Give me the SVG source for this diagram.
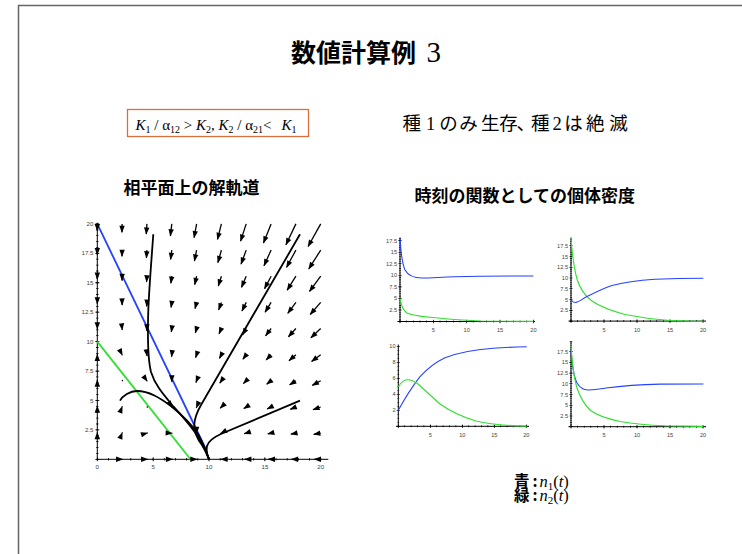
<svg xmlns="http://www.w3.org/2000/svg" width="742" height="554" viewBox="0 0 742 554">
<style>
.cjk{font-family:"Noto Sans CJK JP","Noto Sans CJK SC",sans-serif}
.ser{font-family:"Liberation Serif",serif}
.b{font-weight:bold}
.tk{font-family:"Liberation Sans",sans-serif;font-size:6.2px;fill:#444}
.tk2{font-family:"Liberation Sans",sans-serif;font-size:5.6px;fill:#444}
.vf path{fill:none;stroke:#000;stroke-width:1.3;marker-end:url(#ah)}
.traj{fill:none;stroke:#000;stroke-width:1.8}
.ax{stroke:#000;stroke-width:1;fill:none}
.tick{stroke:#000;fill:none}
.cb{fill:none;stroke:#2442ff;stroke-width:1.1}
.cg{fill:none;stroke:#2fe02f;stroke-width:1.1}
</style>
<defs>
<marker id="ah" markerUnits="userSpaceOnUse" markerWidth="8" markerHeight="6" refX="0" refY="0" orient="auto" style="overflow:visible"><path d="M0.7,0 L-6.6,-2.7 L-6.6,2.7 Z" fill="#000"/></marker>
</defs>
<rect width="742" height="554" fill="#fff"/>
<g id="frame" fill="none" stroke="#666" stroke-width="1.5"><path d="M18.5,554 V5.5 H742"/></g>
<g id="title">
<text x="291" y="61.5" class="cjk b" font-size="25">数値計算例</text>
<text x="426.5" y="61.5" class="ser" font-size="29">3</text>
</g>
<g id="formula">
<rect x="127.5" y="109.5" width="181" height="27" fill="none" stroke="#d8703c" stroke-width="1.3"/>
<text x="135.5" y="129.5" class="ser" font-size="15"><tspan font-style="italic">K</tspan><tspan font-size="10" dy="3">1</tspan><tspan dy="-3"> / α</tspan><tspan font-size="10" dy="3">12</tspan><tspan dy="-3"> &gt; </tspan><tspan font-style="italic">K</tspan><tspan font-size="10" dy="3">2</tspan><tspan dy="-3">, </tspan><tspan font-style="italic">K</tspan><tspan font-size="10" dy="3">2</tspan><tspan dy="-3"> / α</tspan><tspan font-size="10" dy="3">21</tspan><tspan dy="-3">&lt;</tspan><tspan x="281.5" font-style="italic">K</tspan><tspan font-size="10" dy="3">1</tspan></text>
</g>
<g id="result">
<text y="130" class="cjk" font-size="18.5"><tspan x="402.6">種</tspan><tspan x="426" class="ser">1</tspan><tspan x="439.3 459.3 481 499.3 516.5">のみ生存、</tspan><tspan x="531">種</tspan><tspan x="552.5" class="ser">2</tspan><tspan x="564.3 586 609.3">は絶滅</tspan></text>
</g>
<g id="headers">
<text x="123.5" y="193.5" class="cjk b" font-size="17">相平面上の解軌道</text>
<text x="414.5" y="201.5" class="cjk b" font-size="17">時刻の関数としての個体密度</text>
</g>
<g id="phase-plane">
<g id="pp-axes">
<path class="ax" d="M97.3,459.3 H328.3 M97.3,459.3 V222.7"/>
<line class="tick" x1="96.9" y1="459.3" x2="328" y2="459.3" stroke-width="2.4" stroke-dasharray="0.8 10.37"/>
<line class="tick" x1="96.9" y1="459.3" x2="328" y2="459.3" stroke-width="4" stroke-dasharray="0.8 55.05"/>
<line class="tick" x1="97.3" y1="459.7" x2="97.3" y2="222.5" stroke-width="2.4" stroke-dasharray="0.8 5.085"/>
<line class="tick" x1="97.3" y1="459.7" x2="97.3" y2="222.5" stroke-width="4" stroke-dasharray="0.8 28.625"/>
<g class="tk" text-anchor="middle">
<text x="97.3" y="469">0</text><text x="153.2" y="469">5</text><text x="209" y="469">10</text><text x="264.9" y="469">15</text><text x="320.7" y="469">20</text>
</g>
<g class="tk" text-anchor="end">
<text x="93.5" y="431.9">2.5</text><text x="93.5" y="402.5">5</text><text x="93.5" y="373">7.5</text><text x="93.5" y="343.6">10</text><text x="93.5" y="314.2">12.5</text><text x="93.5" y="284.8">15</text><text x="93.5" y="255.3">17.5</text><text x="93.5" y="225.9">20</text>
</g>
</g>
<g id="nullclines" stroke-width="1.8" fill="none">
<line x1="97.3" y1="223.9" x2="205.8" y2="449" stroke="#2442ff"/>
<line x1="97.3" y1="341.6" x2="190.5" y2="459.3" stroke="#2fe02f"/>
</g>
<g id="vector-field" class="vf">
<path d="M97.3 433.1l0 -.57"/><path d="M97.3 407l0 -.82"/><path d="M97.3 380.8l0 -.74"/><path d="M97.3 354.7l0 -.33"/><path d="M97.3 328.5l0 .41"/><path d="M97.3 302.4l0 1.47"/><path d="M97.3 276.2l0 2.87"/><path d="M97.3 250.1l0 4.59"/><path d="M97.3 223.9l0 6.63"/>
<path d="M122.1 459.3l.54 0"/><path d="M122.1 433.1l.2 -.5"/><path d="M122.1 407l.2 -.5"/><path d="M122.1 354.7l.23 .46"/><path d="M122.1 328.5l.16 1.39"/><path d="M122.1 302.4l.08 2.65"/><path d="M122.1 276.2l0 4.24"/><path d="M122.1 250.1l-.08 6.16"/><path d="M122.1 223.9l-.16 8.4"/>
<path d="M146.9 459.3l.78 0"/><path d="M146.9 433.1l.62 -.18"/><path d="M146.9 380.8l.31 .44"/><path d="M146.9 354.7l.16 1.24"/><path d="M146.9 328.5l0 2.38"/><path d="M146.9 302.4l-.16 3.83"/><path d="M146.9 276.2l-.31 5.62"/><path d="M146.9 250.1l-.47 7.73"/><path d="M146.9 223.9l-.62 10.17"/>
<path d="M171.8 459.3l.7 0"/><path d="M171.8 433.1l.47 .02"/><path d="M171.8 407l.23 .36"/><path d="M171.8 380.8l0 1.03"/><path d="M171.8 354.7l-.23 2.03"/><path d="M171.8 328.5l-.47 3.36"/><path d="M171.8 302.4l-.7 5.01"/><path d="M171.8 276.2l-.93 6.99"/><path d="M171.8 250.1l-1.17 9.3"/><path d="M171.8 223.9l-1.4 11.94"/>
<path d="M196.6 459.3l.31 0"/><path d="M196.6 433.1l0 .21"/><path d="M196.6 407l-.31 .75"/><path d="M196.6 380.8l-.62 1.62"/><path d="M196.6 354.7l-.93 2.82"/><path d="M196.6 328.5l-1.24 4.34"/><path d="M196.6 302.4l-1.55 6.19"/><path d="M196.6 276.2l-1.86 8.37"/><path d="M196.6 250.1l-2.18 10.88"/><path d="M196.6 223.9l-2.49 13.71"/>
<path d="M221.4 459.3l-.39 0"/><path d="M221.4 433.1l-.78 .41"/><path d="M221.4 407l-1.17 1.15"/><path d="M221.4 380.8l-1.55 2.21"/><path d="M221.4 354.7l-1.94 3.6"/><path d="M221.4 328.5l-2.33 5.32"/><path d="M221.4 302.4l-2.72 7.37"/><path d="M221.4 276.2l-3.11 9.75"/><path d="M221.4 250.1l-3.5 12.45"/><path d="M221.4 223.9l-3.89 15.48"/>
<path d="M246.2 459.3l-1.4 0"/><path d="M246.2 433.1l-1.86 .61"/><path d="M246.2 407l-2.33 1.54"/><path d="M246.2 380.8l-2.8 2.8"/><path d="M246.2 354.7l-3.26 4.39"/><path d="M246.2 328.5l-3.73 6.31"/><path d="M246.2 302.4l-4.2 8.55"/><path d="M246.2 276.2l-4.66 11.12"/><path d="M246.2 250.1l-5.13 14.02"/><path d="M246.2 223.9l-5.59 17.25"/>
<path d="M271.1 459.3l-2.72 0"/><path d="M271.1 433.1l-3.26 .8"/><path d="M271.1 407l-3.81 1.93"/><path d="M271.1 380.8l-4.35 3.39"/><path d="M271.1 354.7l-4.9 5.18"/><path d="M271.1 328.5l-5.44 7.29"/><path d="M271.1 302.4l-5.98 9.73"/><path d="M271.1 276.2l-6.53 12.5"/><path d="M271.1 250.1l-7.07 15.59"/><path d="M271.1 223.9l-7.61 19.02"/>
<path d="M295.9 459.3l-4.35 0"/><path d="M295.9 433.1l-4.97 1"/><path d="M295.9 407l-5.59 2.33"/><path d="M295.9 380.8l-6.22 3.98"/><path d="M295.9 354.7l-6.84 5.96"/><path d="M295.9 328.5l-7.46 8.27"/><path d="M295.9 302.4l-8.08 10.91"/><path d="M295.9 276.2l-8.7 13.87"/><path d="M295.9 250.1l-9.32 17.17"/><path d="M295.9 223.9l-9.95 20.79"/>
<path d="M320.7 459.3l-6.29 0"/><path d="M320.7 433.1l-6.99 1.2"/><path d="M320.7 407l-7.69 2.72"/><path d="M320.7 380.8l-8.39 4.57"/><path d="M320.7 354.7l-9.09 6.75"/><path d="M320.7 328.5l-9.79 9.25"/><path d="M320.7 302.4l-10.49 12.09"/><path d="M320.7 276.2l-11.19 15.25"/><path d="M320.7 250.1l-11.89 18.74"/><path d="M320.7 223.9l-12.59 22.56"/>
</g>
<g id="vf-dots" fill="#000"><circle cx="122.4" cy="380.6" r="0.8"/><circle cx="147.3" cy="407" r="0.8"/></g>
<g id="trajectories" class="traj">
<path d="M153.3,234.3 C151.8,256 149.3,285 148.3,310 C147.5,335 147.5,358 151,372 C155,385 163,394 173,406 C182,416 192,427 198,437 C203,446 206.5,453 209,459.3"/>
<path d="M120,400.7 C122.5,396 130,391 137,391 C149,391 160,398 171,406 C182,415 192,425 198,434 C203,443 206.5,452 209,459.3"/>
<path d="M300,400.7 L222,433.5 C214,437 208.5,441 207,446 C206,451 207.5,456 209,459.3"/>
<path d="M300,234.3 L201,405 C197,412 194.5,418 194.3,425 C194.2,433 198,440 202,445 C205,449 207.5,454 209,459.3"/>
</g>
</g>
<g id="time-series">
<g id="ts-top-left">
<path class="ax" d="M397.5,321.5 H535 M400,321.5 V237.5"/>
<line class="tick" x1="399.65" y1="321.5" x2="535" y2="321.5" stroke-width="2" stroke-dasharray="0.7 5.97"/>
<line class="tick" x1="399.65" y1="321.5" x2="535" y2="321.5" stroke-width="3.6" stroke-dasharray="0.7 32.65"/>
<line class="tick" x1="400" y1="321.8" x2="400" y2="237.5" stroke-width="1.8" stroke-dasharray="0.6 1.71"/>
<line class="tick" x1="400" y1="321.8" x2="400" y2="237.5" stroke-width="3.4" stroke-dasharray="0.6 10.95"/>
<g class="tk2" text-anchor="end"><text x="397" y="312">2.5</text><text x="397" y="300.4">5</text><text x="397" y="288.9">7.5</text><text x="397" y="277.3">10</text><text x="397" y="265.8">12.5</text><text x="397" y="254.2">15</text><text x="397" y="242.7">17.5</text></g>
<g class="tk2" text-anchor="middle"><text x="433.4" y="331.5">5</text><text x="466.7" y="331.5">10</text><text x="500" y="331.5">15</text><text x="533.4" y="331.5">20</text></g>
<path class="cb" d="M400,238.3 C400.8,252 402,263 405,270 C408,275.5 414,278 422,278 C432,278 440,277.2 455,276.8 C475,276.3 500,276 533.4,276"/>
<path class="cg" d="M400,298.4 C401,305 403,310.5 407,313 C412,315.5 420,316.3 430,317.3 C445,319 460,320.3 480,321 L533.4,321.4"/>
</g>
<g id="ts-top-right">
<path class="ax" d="M568.5,321.1 H706 M571,321.1 V237.5"/>
<line class="tick" x1="570.65" y1="321.1" x2="706" y2="321.1" stroke-width="2" stroke-dasharray="0.7 5.9"/>
<line class="tick" x1="570.65" y1="321.1" x2="706" y2="321.1" stroke-width="3.6" stroke-dasharray="0.7 32.3"/>
<line class="tick" x1="571" y1="321.4" x2="571" y2="237.5" stroke-width="1.8" stroke-dasharray="0.6 1.555"/>
<line class="tick" x1="571" y1="321.4" x2="571" y2="237.5" stroke-width="3.4" stroke-dasharray="0.6 10.175"/>
<g class="tk2" text-anchor="end"><text x="568" y="312.3">2.5</text><text x="568" y="301.6">5</text><text x="568" y="290.8">7.5</text><text x="568" y="280">10</text><text x="568" y="269.2">12.5</text><text x="568" y="258.5">15</text><text x="568" y="247.7">17.5</text></g>
<g class="tk2" text-anchor="middle"><text x="604" y="331.5">5</text><text x="637" y="331.5">10</text><text x="670" y="331.5">15</text><text x="703" y="331.5">20</text></g>
<path class="cg" d="M571,238.3 C572,252 574,268 577,279 C580,289 585,296 592,301 C600,306.5 612,311 625,314.5 C640,317.5 655,319.5 670,320.5 C685,321 695,321.2 703.4,321.3"/>
<path class="cb" d="M571,300 C572.5,302 574,302.6 576,302.4 C579,302 582,299 587,296.5 C595,292.5 603,288.5 612,285.5 C625,282 640,280.3 655,279.3 C675,278.6 690,278.4 703.4,278.3"/>
</g>
<g id="ts-bottom-left">
<path class="ax" d="M396,426.3 H529 M398.3,426.3 V344.5"/>
<line class="tick" x1="397.95" y1="426.3" x2="529" y2="426.3" stroke-width="2" stroke-dasharray="0.7 5.7"/>
<line class="tick" x1="397.95" y1="426.3" x2="529" y2="426.3" stroke-width="3.6" stroke-dasharray="0.7 31.3"/>
<line class="tick" x1="398.3" y1="426.6" x2="398.3" y2="344.5" stroke-width="1.8" stroke-dasharray="0.6 3.4"/>
<line class="tick" x1="398.3" y1="426.6" x2="398.3" y2="344.5" stroke-width="3.4" stroke-dasharray="0.6 15.4"/>
<g class="tk2" text-anchor="end"><text x="395.5" y="412.3">2</text><text x="395.5" y="396.3">4</text><text x="395.5" y="380.3">6</text><text x="395.5" y="364.3">8</text><text x="395.5" y="348.3">10</text></g>
<g class="tk2" text-anchor="middle"><text x="430.3" y="437">5</text><text x="462.3" y="437">10</text><text x="494.3" y="437">15</text><text x="526.3" y="437">20</text></g>
<path class="cb" d="M398.3,410.3 C404,400 412,387 420,376.7 C428,368 436,362 445,357.8 C458,352.5 475,349.5 493,348.2 C505,347.4 515,347 526.7,346.7"/>
<path class="cg" d="M398.3,386.7 C401,382.5 404,380 407,379.8 C411,379.6 414,381 418,384 C425,390 432,397 440,404 C450,411 462,417 476,421 C490,424.5 505,425.8 526.7,426.1"/>
</g>
<g id="ts-bottom-right">
<path class="ax" d="M568.5,426.7 H706 M571,426.7 V341"/>
<line class="tick" x1="570.65" y1="426.7" x2="706" y2="426.7" stroke-width="2" stroke-dasharray="0.7 5.9"/>
<line class="tick" x1="570.65" y1="426.7" x2="706" y2="426.7" stroke-width="3.6" stroke-dasharray="0.7 32.3"/>
<line class="tick" x1="571" y1="427" x2="571" y2="341" stroke-width="1.8" stroke-dasharray="0.6 1.545"/>
<line class="tick" x1="571" y1="427" x2="571" y2="341" stroke-width="3.4" stroke-dasharray="0.6 10.125"/>
<g class="tk2" text-anchor="end"><text x="568" y="418">2.5</text><text x="568" y="407.3">5</text><text x="568" y="396.5">7.5</text><text x="568" y="385.8">10</text><text x="568" y="375.1">12.5</text><text x="568" y="364.4">15</text><text x="568" y="353.7">17.5</text></g>
<g class="tk2" text-anchor="middle"><text x="604" y="437">5</text><text x="637" y="437">10</text><text x="670" y="437">15</text><text x="703" y="437">20</text></g>
<path class="cb" d="M571,349.5 C571.8,362 573.5,376 577,383 C580,388 583,389.8 588,390 C595,390.2 600,389 606,388 C620,386.2 640,384.6 660,384.1 L703.4,384"/>
<path class="cg" d="M571,345.2 C572,360 574,378 577,388 C580,397 584,404 590,410 C597,415.5 606,418.5 620,421.5 C635,424 650,425.2 665,425.8 L703.4,426.4"/>
</g>
</g>
<g id="legend">
<text x="514" y="487" class="cjk b" font-size="15.5">青</text>
<text x="532.5" y="487" class="cjk b" font-size="15.5">:</text>
<text x="539.5" y="487" class="ser" font-size="16.5"><tspan font-style="italic">n</tspan><tspan font-size="11" dy="3">1</tspan><tspan dy="-3">(</tspan><tspan font-style="italic">t</tspan><tspan>)</tspan></text>
<text x="514" y="501" class="cjk b" font-size="15.5">緑</text>
<text x="532.5" y="501" class="cjk b" font-size="15.5">:</text>
<text x="539.5" y="501" class="ser" font-size="16.5"><tspan font-style="italic">n</tspan><tspan font-size="11" dy="3">2</tspan><tspan dy="-3">(</tspan><tspan font-style="italic">t</tspan><tspan>)</tspan></text>
</g>
</svg>
